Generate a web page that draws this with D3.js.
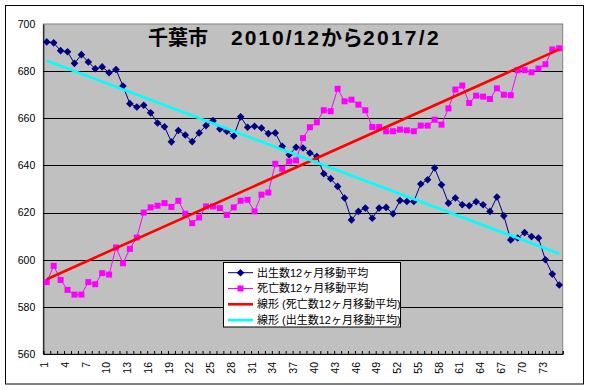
<!DOCTYPE html>
<html><head><meta charset="utf-8">
<script src="https://cdn.jsdelivr.net/npm/d3@7"></script>
<style>
html,body{margin:0;padding:0;background:#fff;}
svg{display:block;}
text{font-family:"Liberation Sans","Noto Sans CJK JP",sans-serif;}
</style></head><body>
<svg id="c" width="590" height="390"></svg>
<script>
// ---- data ----
const titleParts = ["千葉市　","2010/12","から","2017/2"];
const months = d3.range(1, 76); // 1..75 (2010/12 .. 2017/2)
const xTickLabels = [1,4,7,10,13,16,19,22,25,28,31,34,37,40,43,46,49,52,55,58,61,64,67,70,73];
const yTicks = [560,580,600,620,640,660,680,700];
const seriesNames = ["出生数12ヶ月移動平均","死亡数12ヶ月移動平均","線形 (死亡数12ヶ月移動平均)","線形 (出生数12ヶ月移動平均)"];
const births = [692.4,692.0,688.7,688.2,683.3,687.0,683.9,681.0,681.8,679.3,
  680.7,673.7,666.2,664.8,665.5,662.3,658.0,656.4,650.0,654.8,
  652.9,650.1,653.8,656.9,659.0,655.5,654.5,652.5,660.6,656.2,
  656.6,655.9,653.5,653.8,648.1,644.5,647.7,647.4,645.3,643.8,
  636.5,634.4,631.1,626.2,616.9,620.5,621.9,617.6,621.9,622.2,
  619.5,625.1,624.7,624.7,632.1,633.9,638.9,631.8,624.0,626.2,
  623.3,622.9,624.6,623.3,620.5,626.6,618.6,608.4,609.2,611.5,
  609.8,609.2,600.0,593.9,589.3];
const deaths = [590.5,597.4,591.4,587.2,585.2,585.2,590.5,589.6,594.3,593.7,
  605.2,598.5,604.6,609.4,620.0,622.2,622.9,624.0,622.4,625.0,
  619.5,615.5,617.9,622.6,622.6,621.9,619.0,622.2,625.0,625.4,
  620.5,627.6,628.5,640.7,638.6,641.7,642.1,651.6,656.2,658.3,
  663.4,663.0,672.5,667.2,667.9,665.8,663.4,656.3,656.3,654.5,
  654.5,655.2,654.9,654.5,656.9,656.9,659.4,657.3,664.2,672.2,
  673.9,666.5,669.6,669.2,668.2,672.7,670.0,669.8,680.4,680.4,
  679.5,681.1,682.9,689.2,689.7];

// ---- layout ----
const svg = d3.select("#c");
const L = 43.3, R = 562.7, T = 24, B = 354;
const xb = d3.scaleBand().domain(months).range([L, R]).paddingInner(0).paddingOuter(0);
const xc = d => xb(d) + xb.bandwidth()/2;
const xl = d3.scaleLinear().domain([0.5, 75.5]).range([L, R]);
const y = d3.scaleLinear().domain([560, 700]).range([B, T]);

// outer border
svg.append("rect").attr("x",5.5).attr("y",5.5).attr("width",578).attr("height",378.5)
  .attr("fill","#fff").attr("stroke","#000").attr("stroke-width",1);

// plot area
svg.append("rect").attr("x",L).attr("y",T).attr("width",R-L).attr("height",B-T)
  .attr("fill","#C0C0C0").attr("stroke","#808080").attr("stroke-width",1);

// gridlines
svg.append("g").selectAll("line").data(yTicks.filter(v=>v>560 && v<700)).join("line")
  .attr("x1",L).attr("x2",R).attr("y1",d=>Math.round(y(d))+0.5).attr("y2",d=>Math.round(y(d))+0.5)
  .attr("stroke","#000").attr("stroke-width",1);

// y axis
const ya = svg.append("g").attr("transform",`translate(${L},0)`)
  .call(d3.axisLeft(y).tickValues(yTicks).tickSize(0).tickPadding(8).tickFormat(d3.format("d")));
ya.select(".domain").attr("stroke","#000");
ya.selectAll("text").attr("font-size","10.5px").attr("fill","#000");

// x axis: boundary ticks (inside)
const xt = svg.append("g").attr("transform",`translate(0,${B})`)
  .call(d3.axisBottom(xl).tickValues(d3.range(0.5, 76, 1)).tickSize(-3).tickFormat(""));
xt.select(".domain").attr("stroke","#000");
xt.selectAll("line").attr("stroke","#000");

// x axis labels
const xa = svg.append("g").attr("transform",`translate(0,${B})`)
  .call(d3.axisBottom(xb).tickValues(xTickLabels).tickSize(0).tickFormat(d3.format("d")));
xa.select(".domain").remove();
xa.selectAll("text")
  .attr("font-size","10.5px").attr("fill","#000")
  .attr("text-anchor","end")
  .attr("transform","translate(-2.5,8) rotate(-90)")
  .attr("x",0).attr("y",0).attr("dy","0.35em");

// series lines
const line = d3.line().x((d,i)=>xc(months[i])).y(d=>y(d));
const g = svg.append("g");
g.append("path").attr("d",line(births)).attr("fill","none").attr("stroke","#000080").attr("stroke-width",1);
g.selectAll(".bm").data(births).join("path").attr("class","bm")
  .attr("transform",(d,i)=>`translate(${xc(months[i])},${y(d)})`)
  .attr("d","M0,-3.8L3.8,0L0,3.8L-3.8,0Z").attr("fill","#000080");
g.append("path").attr("d",line(deaths)).attr("fill","none").attr("stroke","#FF00FF").attr("stroke-width",1);
g.selectAll(".dm").data(deaths).join("rect").attr("class","dm")
  .attr("x",(d,i)=>xc(months[i])-3).attr("y",d=>y(d)-3).attr("width",6).attr("height",6)
  .attr("fill","#FF00FF");

// linear trendlines (least squares, as in the spreadsheet)
function fit(vals){
  const xs = months, n = xs.length;
  const mx = d3.mean(xs), my = d3.mean(vals);
  let sxy=0, sxx=0;
  for(let i=0;i<n;i++){ sxy+=(xs[i]-mx)*(vals[i]-my); sxx+=(xs[i]-mx)**2; }
  const b = sxy/sxx, a = my - b*mx;
  return [xs[0], xs[n-1]].map(m => [xc(m), y(a + b*m)]);
}
svg.append("path").attr("d",d3.line()(fit(deaths))).attr("stroke","#FF0000").attr("stroke-width",2.6).attr("fill","none");
svg.append("path").attr("d",d3.line()(fit(births))).attr("stroke","#00FFFF").attr("stroke-width",2.6).attr("fill","none");

// title
const tt = svg.append("text").attr("x",148).attr("y",45).attr("font-weight","bold").attr("fill","#000");
tt.append("tspan").attr("font-size","20px").text(titleParts[0]);
tt.append("tspan").attr("font-size","21px").attr("dx",3).attr("letter-spacing","2px").text(titleParts[1]);
tt.append("tspan").attr("font-size","21px").text(titleParts[2]);
tt.append("tspan").attr("font-size","21px").attr("letter-spacing","2.3px").text(titleParts[3]);

// legend
const lg = svg.append("g");
lg.append("rect").attr("x",223.5).attr("y",262.5).attr("width",177).attr("height",64.5)
  .attr("fill","#fff").attr("stroke","#000").attr("stroke-width",1);
const colors = ["#000080","#FF00FF","#FF0000","#00FFFF"];
const widths = [1,1,2.6,2.6];
seriesNames.forEach((name,k)=>{
  const ry = 272.7 + k*15.8;
  lg.append("line").attr("x1",228).attr("x2",253).attr("y1",ry).attr("y2",ry)
    .attr("stroke",colors[k]).attr("stroke-width",widths[k]);
  if(k===0) lg.append("path").attr("transform",`translate(240.5,${ry})`).attr("d","M0,-3.8L3.8,0L0,3.8L-3.8,0Z").attr("fill",colors[0]);
  if(k===1) lg.append("rect").attr("x",237.5).attr("y",ry-3).attr("width",6).attr("height",6).attr("fill",colors[1]);
  lg.append("text").attr("x",257).attr("y",ry).attr("dy","0.36em").attr("font-size","11px").attr("fill","#000").text(name);
});
</script>
</body></html>
